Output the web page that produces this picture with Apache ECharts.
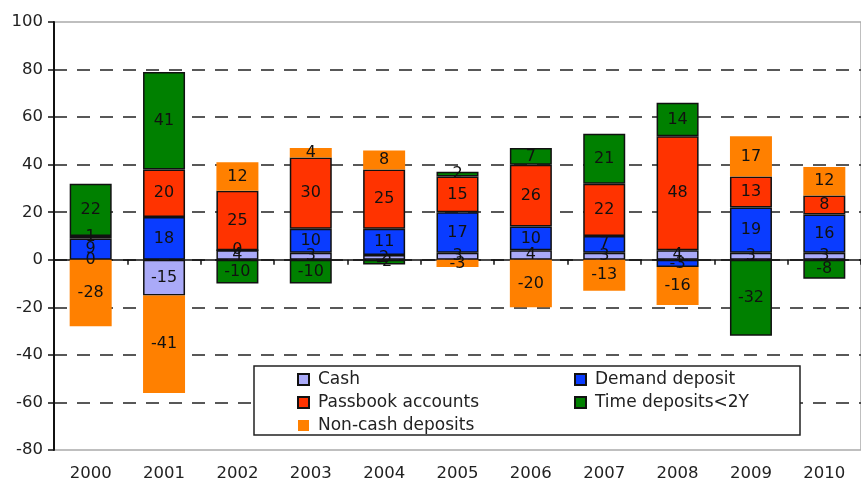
<!DOCTYPE html>
<html>
<head>
<meta charset="utf-8">
<script src="https://cdn.jsdelivr.net/npm/echarts@6/dist/echarts.min.js"></script>
<style>
  html, body { margin: 0; padding: 0; background: #fff; }
  #chart01 { width: 861px; height: 483px; }
</style>
</head>
<body>
<div id="chart01"></div>
<script>
var years = ['2000', '2001', '2002', '2003', '2004', '2005', '2006', '2007', '2008', '2009', '2010'];
var cash = [0, -15, 4, 3, 2, 3, 4, 3, 4, 3, 3];
var demand = [9, 18, 0, 10, 11, 17, 10, 7, -3, 19, 16];
var passbook = [1, 20, 25, 30, 25, 15, 26, 22, 48, 13, 8];
var timeDep = [22, 41, -10, -10, -2, 2, 7, 21, 14, -32, -8];
var nonCash = [-28, -41, 12, 4, 8, -3, -20, -13, -16, 17, 12];

var font = 'DejaVu Sans, Liberation Sans, sans-serif';

function bar(name, data, color, border) {
  return {
    name: name,
    type: 'bar',
    stack: 'total',
    barWidth: 42,
    data: data,
    itemStyle: {
      color: color,
      borderColor: border ? '#111' : color,
      borderWidth: border ? 1.5 : 0
    },
    label: {
      show: true,
      position: 'inside',
      color: '#111',
      fontSize: 16,
      fontFamily: font
    }
  };
}

var legendText = { fontSize: 17, color: '#222', fontFamily: font, lineHeight: 23, padding: [0, 0, 0, 4] };

var chartDom = document.getElementById('chart01');
var myChart = echarts.init(chartDom);
var option;

option = {
  animation: false,
  grid: {
    left: 54,
    top: 22,
    width: 814,
    height: 428,
    show: true,
    borderColor: '#aaa',
    borderWidth: 1.5
  },
  xAxis: [
    {
      type: 'category',
      data: years,
      position: 'bottom',
      axisLine: { onZero: true, lineStyle: { color: '#111', width: 1.5 } },
      axisTick: { show: true, length: 5, lineStyle: { color: '#111', width: 1.5 } },
      axisLabel: { show: false },
      splitLine: { show: false }
    },
    {
      type: 'category',
      data: years,
      position: 'bottom',
      axisLine: { show: false, onZero: false },
      axisTick: { show: false },
      axisLabel: { margin: 15, fontSize: 16.5, color: '#222', fontFamily: font },
      splitLine: { show: false }
    }
  ],
  yAxis: {
    type: 'value',
    min: -80,
    max: 100,
    interval: 20,
    axisLine: { show: true, lineStyle: { color: '#111', width: 2 } },
    axisTick: { show: true, length: 6, lineStyle: { color: '#111', width: 1.5 } },
    axisLabel: { margin: 11, fontSize: 16.5, color: '#222', fontFamily: font },
    splitLine: {
      show: true,
      showMinLine: false,
      showMaxLine: false,
      lineStyle: { color: '#222', width: 1.5, type: [13, 10] }
    }
  },
  graphic: [
    {
      type: 'rect',
      z: 3,
      shape: { x: 254, y: 366, width: 546, height: 69 },
      style: { fill: '#fff', stroke: '#222', lineWidth: 1.5 }
    }
  ],
  legend: [
    {
      left: 297,
      top: 368,
      orient: 'vertical',
      padding: 0,
      itemGap: 0,
      itemWidth: 11,
      itemHeight: 11,
      icon: 'rect',
      selectedMode: false,
      textStyle: legendText,
      data: ['Cash', 'Passbook accounts', 'Non-cash deposits']
    },
    {
      left: 574,
      top: 368,
      orient: 'vertical',
      padding: 0,
      itemGap: 0,
      itemWidth: 11,
      itemHeight: 11,
      icon: 'rect',
      selectedMode: false,
      textStyle: legendText,
      data: ['Demand deposit', 'Time deposits<2Y']
    }
  ],
  series: [
    bar('Cash', cash, '#aaaaf8', true),
    bar('Demand deposit', demand, '#0a3cff', true),
    bar('Passbook accounts', passbook, '#ff3300', true),
    bar('Time deposits<2Y', timeDep, '#008000', true),
    bar('Non-cash deposits', nonCash, '#ff8000', false)
  ]
};

option && myChart.setOption(option);
</script>
</body>
</html>
